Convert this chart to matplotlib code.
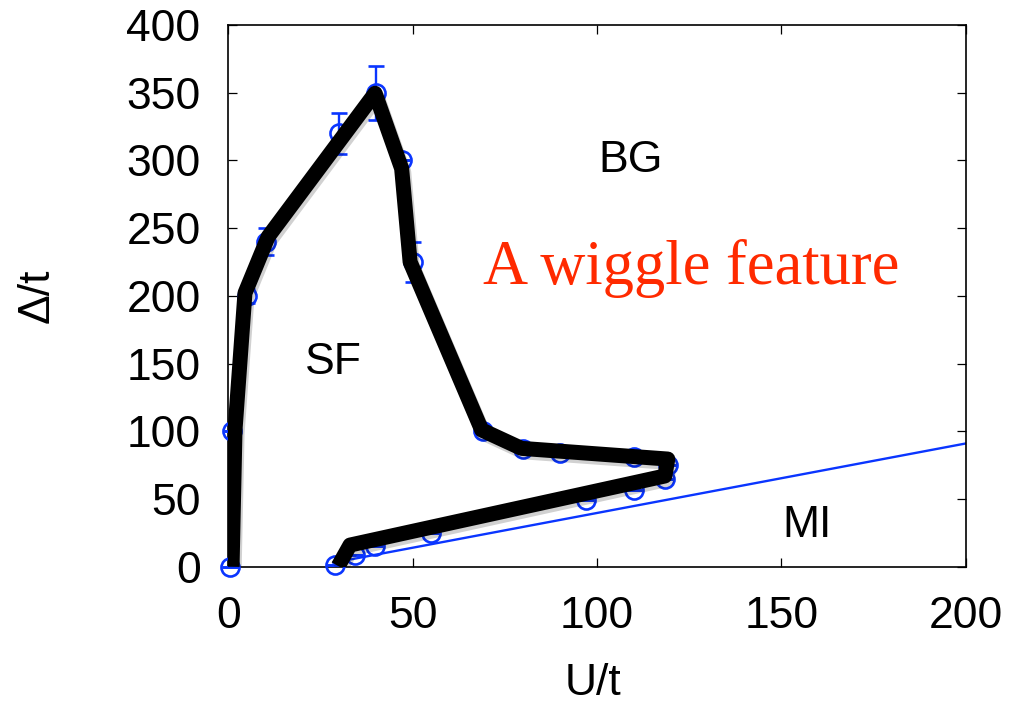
import matplotlib
matplotlib.use("Agg")
import matplotlib.pyplot as plt
import matplotlib.patheffects as pe

# ── data ────────────────────────────────────────────────────
# blue open circles (simulation points) with error bars
pts_u   = [0.5, 0.9, 5.1, 10.2, 30, 40, 47, 50, 69, 80, 90, 110, 119.3, 118.4, 110, 97, 55, 39.7, 34.3, 29]
pts_d   = [0, 100, 200, 240, 320, 350, 300, 225, 100, 87, 84, 81, 75, 64.5, 57, 49.5, 25, 15, 8.6, 1.5]
pts_err = [0, 0, 5, 10, 15, 20, 0, 15, 0, 0, 0, 0, 0, 0, 0, 0, 0, 0, 0, 0]

# thick black boundary (hand-drawn guide)
bnd_u = [1, 1.8, 4.5, 10.8, 39.8, 47, 49.3, 68.7, 79.5, 119.2, 118.4, 33, 29.8]
bnd_d = [0, 101, 202, 243.7, 349.6, 294, 225, 101, 87.4, 79.5, 67, 16, 0.5]

# thin blue MI line
mi_u = [28.5, 200]
mi_d = [3, 91]

# region labels
labels = ["BG", "SF", "MI"]
lab_u  = [109, 28.4, 157]
lab_d  = [300, 150.5, 30.4]

x_ticks = [0, 50, 100, 150, 200]
y_ticks = [0, 50, 100, 150, 200, 250, 300, 350, 400]

BLUE = "#0a35ff"
SANS = ["Liberation Sans", "DejaVu Sans"]

plt.rcParams["font.family"] = SANS

fig = plt.figure(figsize=(10.15, 7.02), dpi=100)
ax = fig.add_axes([0.225, 0.1927, 0.7264, 0.7717])

# blue line
ax.plot(mi_u, mi_d, color=BLUE, lw=1.7, zorder=2)

# circles with error bars
ax.errorbar(pts_u, pts_d, yerr=pts_err, fmt="o", ms=13, mfc="none",
            mec=BLUE, mew=1.9, ecolor=BLUE, elinewidth=1.7, capsize=6,
            capthick=1.7, zorder=3, clip_on=False)

# thick black boundary with a soft shadow
ax.plot(bnd_u, bnd_d, color="black", lw=10.8, solid_joinstyle="round",
        solid_capstyle="butt", zorder=4,
        path_effects=[pe.SimpleLineShadow(offset=(1.5, -2.5), alpha=0.18),
                      pe.Normal()])

for txt, u, d in zip(labels, lab_u, lab_d):
    ax.text(u, d, txt, fontsize=32, ha="center", va="center", zorder=5)

ax.text(125.6, 209, "A wiggle feature", fontsize=45, color="#ff2a00",
        family=["Liberation Serif", "DejaVu Serif"], ha="center",
        va="baseline", zorder=5)

ax.set_xlim(0, 200)
ax.set_ylim(0, 400)
ax.set_xticks(x_ticks)
ax.set_yticks(y_ticks)
ax.tick_params(direction="in", length=6.7, width=0.9, labelsize=32,
               top=True, right=True)
ax.tick_params(axis="x", pad=21)
ax.tick_params(axis="y", pad=20)
for sp in ax.spines.values():
    sp.set_linewidth(1.2)

ax.set_xlabel("U/t", fontsize=32, va="center", ha="center")
ax.set_ylabel("\u0394/t", fontsize=32, va="center", ha="center")
ax.xaxis.set_label_coords(0.495, -0.215)
ax.yaxis.set_label_coords(-0.26, 0.50)

fig.savefig("out.png", dpi=100)
